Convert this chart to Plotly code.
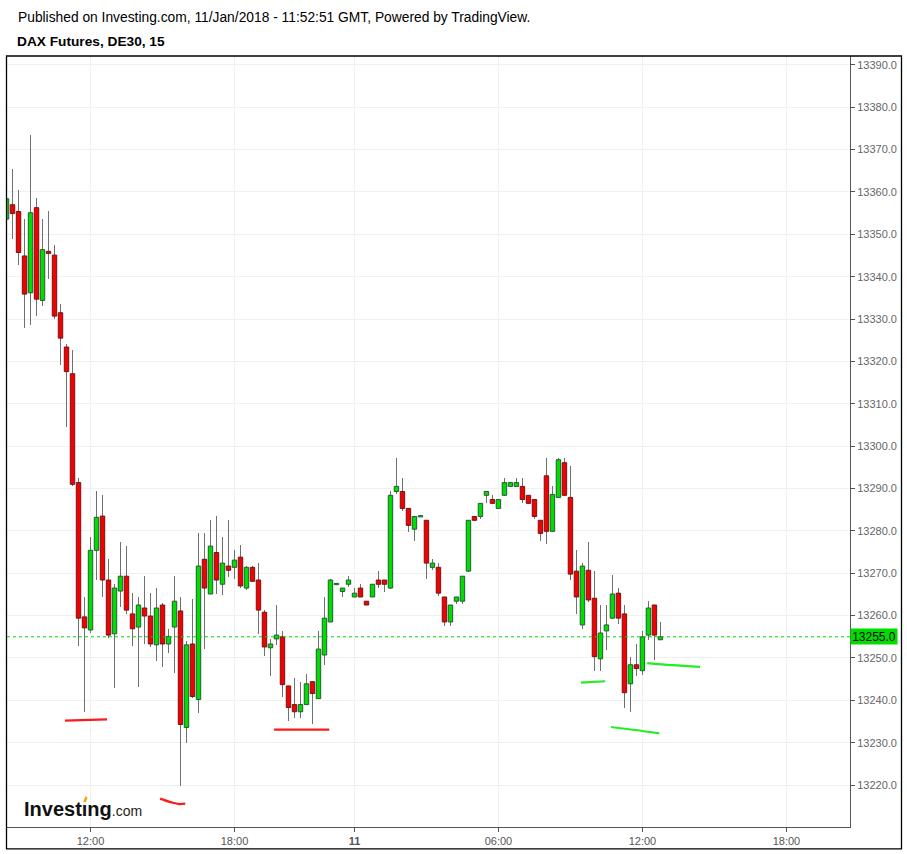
import plotly.graph_objects as go

# ---------------- data (15-min DAX futures bars, index = bar number) ----------------
opens = [13353.6, 13357.0, 13355.4, 13344.9, 13336.2, 13356.3, 13334.4, 13346.0, 13345.1, 13331.5,
         13323.4, 13317.1, 13291.4, 13259.7, 13256.6, 13275.4, 13283.5, 13268.4, 13255.7, 13265.8,
         13269.3, 13260.4, 13257.3, 13261.8, 13259.9, 13253.1, 13262.5, 13253.3, 13257.3, 13261.1,
         13233.6, 13253.3, 13240.2, 13273.3, 13265.1, 13274.9, 13267.4, 13271.7, 13271.4, 13273.8,
         13266.5, 13271.4, 13268.4, 13260.8, 13252.4, 13254.5, 13255.0, 13243.4, 13239.0, 13237.3,
         13239.0, 13244.4, 13240.4, 13250.7, 13258.5, 13267.3, 13265.7, 13267.4, 13264.4, 13266.5,
         13263.4, 13264.4, 13268.4, 13268.4, 13266.5, 13289.3, 13289.3, 13285.3, 13280.4, 13283.3,
         13282.5, 13271.4, 13271.4, 13264.4, 13258.5, 13263.4, 13263.4, 13270.5, 13283.4, 13283.4,
         13288.4, 13287.4, 13285.3, 13288.4, 13290.5, 13290.5, 13290.5, 13288.4, 13287.4, 13282.5,
         13293.0, 13279.9, 13287.9, 13296.1, 13287.9, 13270.5, 13257.8, 13270.7, 13264.1, 13249.8,
         13256.4, 13259.4, 13265.3, 13260.4, 13243.9, 13248.4, 13247.0, 13255.4, 13262.5, 13254.3]
highs = [13359.5, 13365.5, 13360.4, 13353.6, 13373.5, 13358.5, 13353.6, 13355.4, 13347.4, 13333.6,
         13324.0, 13322.6, 13292.4, 13264.4, 13278.5, 13289.4, 13288.4, 13273.4, 13267.5, 13277.4,
         13276.4, 13265.4, 13264.4, 13269.4, 13265.4, 13266.6, 13263.0, 13256.8, 13269.4, 13264.4,
         13254.0, 13263.9, 13279.5, 13279.5, 13282.5, 13283.5, 13278.5, 13282.5, 13275.5, 13276.7,
         13271.6, 13271.6, 13272.4, 13261.3, 13254.5, 13262.5, 13256.4, 13243.5, 13245.3, 13244.4,
         13246.3, 13244.5, 13256.4, 13264.4, 13268.6, 13267.6, 13266.6, 13269.3, 13266.5, 13267.5,
         13263.5, 13267.5, 13270.5, 13268.5, 13289.3, 13297.3, 13292.4, 13285.4, 13283.5, 13283.6,
         13282.6, 13273.3, 13272.4, 13264.5, 13262.6, 13264.5, 13269.4, 13282.6, 13283.5, 13286.6,
         13289.4, 13288.4, 13287.5, 13292.4, 13291.5, 13292.4, 13292.4, 13288.5, 13287.5, 13282.6,
         13297.3, 13290.5, 13297.3, 13297.3, 13295.4, 13275.4, 13272.4, 13277.3, 13270.5, 13262.6,
         13262.6, 13269.5, 13266.5, 13262.5, 13250.3, 13253.3, 13256.4, 13263.4, 13262.6, 13258.5]
lows = [13352.0, 13348.9, 13342.8, 13327.8, 13328.5, 13330.8, 13333.0, 13339.4, 13330.0, 13319.1,
        13304.6, 13290.5, 13252.8, 13237.3, 13256.0, 13268.5, 13264.5, 13254.6, 13242.9, 13262.0,
        13260.3, 13252.8, 13243.1, 13253.2, 13252.6, 13249.2, 13247.9, 13251.1, 13246.4, 13219.7,
        13230.0, 13240.6, 13236.9, 13252.1, 13265.0, 13265.2, 13264.8, 13269.0, 13268.7, 13266.5,
        13266.0, 13268.0, 13255.7, 13250.4, 13245.7, 13253.1, 13240.8, 13235.2, 13235.9, 13235.9,
        13239.0, 13234.3, 13240.4, 13248.4, 13258.5, 13267.3, 13264.5, 13266.7, 13264.3, 13264.3,
        13262.4, 13264.3, 13266.5, 13265.5, 13266.4, 13288.6, 13284.6, 13279.7, 13277.5, 13283.3,
        13268.6, 13270.7, 13264.6, 13257.5, 13257.5, 13262.7, 13262.7, 13270.4, 13282.4, 13282.7,
        13286.7, 13286.4, 13285.2, 13288.3, 13290.4, 13290.4, 13286.7, 13286.4, 13282.7, 13277.5,
        13276.8, 13279.8, 13287.8, 13288.3, 13268.4, 13260.4, 13256.8, 13263.2, 13247.0, 13247.0,
        13251.9, 13259.3, 13258.0, 13238.3, 13237.3, 13245.8, 13246.0, 13254.3, 13249.6, 13254.3]
closes = [13358.4, 13354.9, 13345.7, 13335.9, 13355.1, 13334.7, 13346.4, 13345.5, 13330.7, 13325.5,
          13317.6, 13291.0, 13259.4, 13257.1, 13275.4, 13283.2, 13268.4, 13255.4, 13266.5, 13269.3,
          13261.3, 13256.9, 13262.5, 13259.9, 13253.3, 13261.8, 13253.3, 13255.1, 13263.4, 13234.3,
          13253.1, 13240.9, 13271.7, 13266.5, 13276.4, 13268.4, 13272.4, 13270.7, 13273.1, 13267.0,
          13271.4, 13268.1, 13261.3, 13252.6, 13253.3, 13255.4, 13243.7, 13238.3, 13237.3, 13239.0,
          13243.9, 13241.6, 13252.1, 13259.4, 13268.4, 13267.6, 13266.5, 13268.4, 13265.3, 13264.4,
          13262.5, 13267.4, 13267.4, 13267.4, 13288.4, 13290.5, 13285.3, 13281.3, 13283.4, 13283.6,
          13272.4, 13272.4, 13265.3, 13258.5, 13262.5, 13264.4, 13269.3, 13282.5, 13282.5, 13286.5,
          13289.3, 13286.5, 13287.4, 13291.4, 13291.4, 13291.4, 13287.4, 13286.5, 13283.4, 13279.4,
          13279.9, 13288.6, 13296.8, 13288.4, 13269.8, 13264.4, 13271.7, 13263.7, 13250.3, 13255.9,
          13257.8, 13265.1, 13259.4, 13241.8, 13248.4, 13247.5, 13255.0, 13261.8, 13255.4, 13255.0]

last_price = 13255.0

tick_idx = [14, 38, 58, 82, 106, 130]
tick_text = ["12:00", "18:00", "<b>11</b>", "06:00", "12:00", "18:00"]
y_ticks = list(range(13220, 13391, 10))

# hand-drawn marks (bar index, price)
red_marks = [
    ([9.75, 16.75], [13235.2, 13235.5]),
    ([25.6, 27.5, 28.8, 29.8], [13216.8, 13215.9, 13215.5, 13215.6]),
    ([44.6, 53.8], [13233.1, 13233.1]),
]
green_marks = [
    ([95.75, 99.8], [13244.2, 13244.5]),
    ([100.75, 104.8, 108.8], [13233.7, 13233.0, 13232.2]),
    ([106.8, 111.0, 115.6], [13248.8, 13248.3, 13247.9]),
]

# ---------------- styling ----------------
UP_FILL, UP_LINE = "#00dd00", "#245c34"
DN_FILL, DN_LINE = "#f50000", "#6e1616"
WICK = "#707070"
GRID = "#f0f0f0"
AXIS = "#555555"
FONT = "Liberation Sans, Arial, sans-serif"

n = len(opens)
idx = list(range(n))

base = [min(o, c) for o, c in zip(opens, closes)]
height = [abs(c - o) for o, c in zip(opens, closes)]
up = [c >= o for o, c in zip(opens, closes)]
fills = [UP_FILL if u else DN_FILL for u in up]
lines = [UP_LINE if u else DN_LINE for u in up]

fig = go.Figure()
# wicks (as thin bars so that bodies overlay them)
fig.add_trace(go.Bar(x=idx, y=[h - l for h, l in zip(highs, lows)], base=lows, width=0.17,
                     marker=dict(color=WICK, line=dict(width=0)),
                     hoverinfo="skip", showlegend=False))
# bodies
fig.add_trace(go.Bar(x=idx, y=height, base=base, width=0.74,
                     marker=dict(color=fills, line=dict(color=lines, width=1)),
                     hoverinfo="skip", showlegend=False))

for xs, ys in red_marks:
    fig.add_trace(go.Scatter(x=xs, y=ys, mode="lines", line=dict(color="#ff1a1a", width=2.2, shape="spline"),
                             hoverinfo="skip", showlegend=False))
for xs, ys in green_marks:
    fig.add_trace(go.Scatter(x=xs, y=ys, mode="lines", line=dict(color="#22ee22", width=2.2, shape="spline"),
                             hoverinfo="skip", showlegend=False))

L, R, T, B = 7, 57, 56, 24
W, H = 907, 854
pw, ph = W - L - R, H - T - B


def px(xp):
    return (xp - L) / pw


def py(yp):
    return (H - B - yp) / ph


fig.update_layout(
    width=W, height=H,
    margin=dict(l=L, r=R, t=T, b=B),
    paper_bgcolor="white", plot_bgcolor="white",
    barmode="overlay", bargap=0, showlegend=False,
    font=dict(family=FONT, color=AXIS, size=11),
    xaxis=dict(range=[0.08, 140.6], tickmode="array", tickvals=tick_idx, ticktext=tick_text,
               showgrid=True, gridcolor=GRID, gridwidth=1, zeroline=False,
               showline=True, linecolor=AXIS, linewidth=1, mirror=False,
               ticks="outside", ticklen=4, tickcolor=AXIS,
               tickfont=dict(size=11, color="#555555", family=FONT), fixedrange=True),
    yaxis=dict(range=[13210.1, 13392.1], side="right", tickmode="array", tickvals=y_ticks,
               ticktext=[f"{v:.1f}" for v in y_ticks],
               showgrid=True, gridcolor=GRID, gridwidth=1, zeroline=False,
               showline=True, linecolor=AXIS, linewidth=1,
               ticks="outside", ticklen=4, tickcolor=AXIS,
               tickfont=dict(size=11, color="#666666", family=FONT), fixedrange=True),
)

shapes = [
    # price line
    dict(type="line", xref="paper", yref="y", x0=0, x1=1, y0=last_price, y1=last_price,
         line=dict(color="#00dd00", width=1, dash="dot")),
    # outer frame
    dict(type="rect", xref="paper", yref="paper", x0=px(6.5), x1=px(901.5), y0=py(852), y1=py(56),
         line=dict(color="black", width=1.3), fillcolor="rgba(0,0,0,0)", layer="above"),
    # orange dot of the logo
    dict(type="path", xref="paper", yref="paper",
         path=f"M {px(83.3)},{py(804.5)} L {px(85.4)},{py(799.5)} L {px(87.6)},{py(800.4)} L {px(85.6)},{py(805.3)} Z",
         fillcolor="#f5a100", line=dict(width=0)),
]
fig.update_layout(shapes=shapes)

annotations = [
    dict(xref="paper", yref="y", x=1, y=last_price, xanchor="left", yanchor="middle",
         text=f"{last_price:.1f}", showarrow=False, bgcolor="#00dd00",
         font=dict(family=FONT, size=12, color="black"), width=46, height=15, borderpad=0, xshift=0),
    dict(xref="paper", yref="paper", x=px(16), y=py(17), xanchor="left", yanchor="middle",
         text="Published on Investing.com, 11/Jan/2018 - 11:52:51 GMT, Powered by TradingView.",
         showarrow=False, font=dict(family=FONT, size=13.8, color="black")),
    dict(xref="paper", yref="paper", x=px(15), y=py(41), xanchor="left", yanchor="middle",
         text="<b>DAX Futures, DE30, 15</b>", showarrow=False,
         font=dict(family=FONT, size=13.7, color="black")),
    dict(xref="paper", yref="paper", x=px(22), y=py(812), xanchor="left", yanchor="middle",
         text="<b>Investıng</b><span style='font-size:14px;color:#222'>.com</span>", showarrow=False,
         font=dict(family=FONT, size=20, color="#111111")),
]
fig.update_layout(annotations=annotations)

fig.write_html("out.html", config={"displayModeBar": False, "staticPlot": True},
               post_script="document.body.style.margin='0';document.body.style.overflow='hidden';")
